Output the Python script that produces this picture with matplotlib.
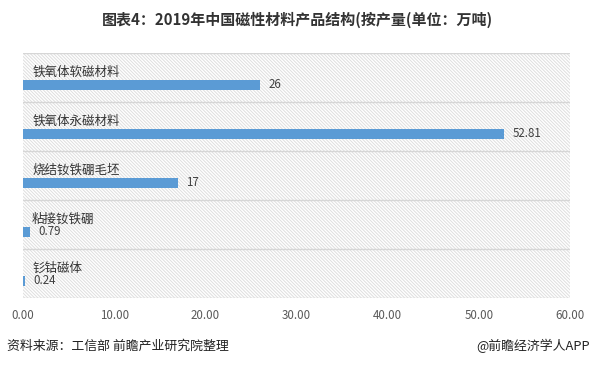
import numpy as np
import matplotlib.pyplot as plt
from matplotlib.patches import Rectangle

plt.rcParams['font.family'] = ['Noto Sans CJK SC', 'DejaVu Sans']
plt.rcParams['hatch.color'] = '#dedede'
plt.rcParams['hatch.linewidth'] = 0.7

# data
categories = ['铁氧体软磁材料', '铁氧体永磁材料', '烧结钕铁硼毛坯', '粘接钕铁硼', '钐钴磁体']
values = [26, 52.81, 17, 0.79, 0.24]
value_labels = ['26', '52.81', '17', '0.79', '0.24']
xticks = [0, 10, 20, 30, 40, 50, 60]

fig = plt.figure(figsize=(5.94, 3.66), dpi=100)
ax = fig.add_axes([23 / 594, 1 - 298 / 366, 547 / 594, 245 / 366])

ax.set_xlim(0, 60)
ax.set_ylim(len(categories) - 0.5, -0.5)

# hatched background
bg = Rectangle((0, -0.5), 60, len(categories), facecolor='white',
               edgecolor='#dedede', hatch='\\' * 10, linewidth=0, zorder=0)
ax.add_patch(bg)

pos = np.arange(len(categories))
ax.barh(pos + 0.15, values, height=0.21, color='#5b9bd5', zorder=3)

for i, (cat, v, lab) in enumerate(zip(categories, values, value_labels)):
    ax.text(1.0, i - 0.11, cat, va='center', ha='left', fontsize=9, color='#333333', zorder=4)
    ax.text(v + 0.9, i + 0.15, lab, va='center', ha='left', fontsize=8.3, color='#404040', zorder=4)

# band separators
for b in np.arange(-0.5, len(categories), 1.0):
    ax.axhline(b, color='#d6d6d6', linewidth=1.0, zorder=2)

ax.set_xticks(xticks)
ax.set_xticklabels([f'{t:.2f}' for t in xticks], fontsize=8.3, color='#595959')
ax.tick_params(axis='x', length=0, pad=8)
ax.set_yticks([])
for s in ax.spines.values():
    s.set_visible(False)

fig.text(0.5, 1 - 20 / 366, '图表4：2019年中国磁性材料产品结构(按产量(单位：万吨)',
         ha='center', va='center', fontsize=10.8, fontweight='bold', color='#333333')
fig.text(7 / 594, 1 - 346 / 366, '资料来源：工信部 前瞻产业研究院整理',
         ha='left', va='center', fontsize=9.3, color='#222222')
fig.text(590 / 594, 1 - 346 / 366, '@前瞻经济学人APP',
         ha='right', va='center', fontsize=9.3, color='#222222')

fig.savefig('out.png', dpi=100)
